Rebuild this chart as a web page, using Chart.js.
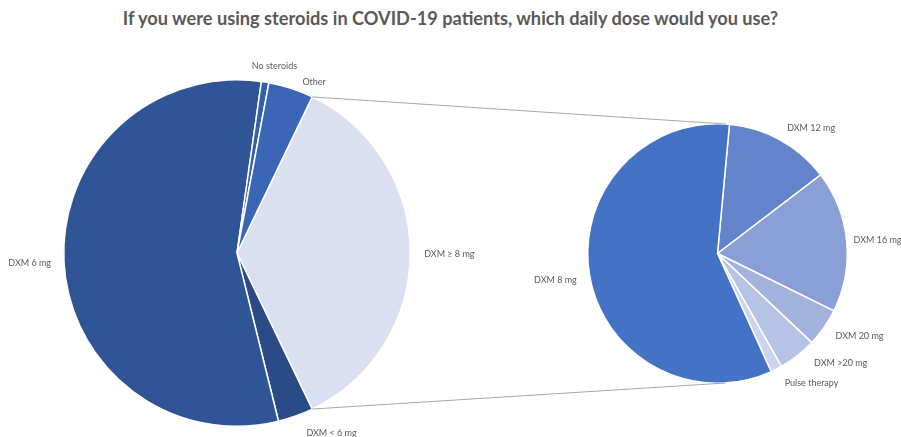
<!DOCTYPE html>
<html>
<head>
<meta charset="utf-8">
<script src="https://cdn.jsdelivr.net/npm/chart.js@4.4.1/dist/chart.umd.min.js"></script>
<style>
    body { margin: 0; background: #fff; }
    #wrap { position: relative; width: 901px; height: 437px; overflow: hidden; }
    #title {
        position: absolute; top: 7px; left: 0; width: 901px;
        text-align: center; font: bold 18.2px Lato, sans-serif; color: #595959;
    }
    canvas { position: absolute; left: 0; top: 0; }
</style>
</head>
<body>
<div id="wrap">
    <div id="title">If you were using steroids in COVID-19 patients, which daily dose would you use?</div>
    <canvas id="mainPie" width="901" height="437"></canvas>
    <canvas id="subPie" width="901" height="437"></canvas>
</div>
<script>
// Data (% of respondents)
const subLabels = ['DXM 12 mg', 'DXM 16 mg', 'DXM 20 mg', 'DXM >20 mg', 'Pulse therapy', 'DXM 8 mg'];
const subValues = [4.7, 6.3, 1.7, 1.7, 0.5, 20.8];
const subColors = ['#6384CA', '#8A9FD5', '#A3B3DE', '#B6C3E5', '#CCD5EE', '#4472C4'];

const mainLabels = ['DXM ≥ 8 mg', 'DXM < 6 mg', 'DXM 6 mg', 'No steroids', 'Other'];
const mainRest = [3.3, 56.1, 0.7, 4.2];
const mainColors = ['#DAE0F0', '#2B4B87', '#2F5597', '#3560A8', '#3B66B5'];

// the "DXM ≥ 8 mg" slice is the sum of the second pie
const groupTotal = subValues.reduce((a, b) => a + b, 0);
const mainValues = [groupTotal, ...mainRest];
const mainTotal = mainValues.reduce((a, b) => a + b, 0);

let mainChart, subChart;

// Labels just outside each slice
const outsideLabels = {
    id: 'outsideLabels',
    afterDatasetsDraw(chart, args, opts) {
        const ctx = chart.ctx;
        const meta = chart.getDatasetMeta(0);
        const nudge = opts.nudge || [];
        ctx.save();
        ctx.font = '9px Lato, sans-serif';
        ctx.fillStyle = '#595959';
        ctx.textBaseline = 'middle';
        meta.data.forEach((arc, i) => {
            const mid = (arc.startAngle + arc.endAngle) / 2;
            const r = arc.outerRadius + opts.offset;
            const n = nudge[i] || [0, 0];
            const x = arc.x + Math.cos(mid) * r + n[0];
            const y = arc.y + Math.sin(mid) * r + n[1];
            const c = Math.cos(mid);
            ctx.textAlign = Math.abs(c) < 0.25 ? 'center' : (c > 0 ? 'left' : 'right');
            ctx.fillText(chart.data.labels[i], x, y);
        });
        ctx.restore();
    }
};

// Lines from the grouped slice to the second pie (tangent points)
const connectors = {
    id: 'connectors',
    afterDatasetsDraw(chart) {
        if (!mainChart) return;
        const g = mainChart.getDatasetMeta(0).data[0];
        const s = chart.getDatasetMeta(0).data[0];
        const ends = [g.startAngle, g.endAngle].map(a => ({
            x: g.x + Math.cos(a) * g.outerRadius,
            y: g.y + Math.sin(a) * g.outerRadius
        }));
        const ctx = chart.ctx;
        ctx.save();
        ctx.strokeStyle = '#A6A6A6';
        ctx.lineWidth = 1;
        ends.forEach((p, k) => {
            const dx = p.x - s.x, dy = p.y - s.y;
            const d = Math.hypot(dx, dy);
            const base = Math.atan2(dy, dx);
            const off = Math.acos(s.outerRadius / d);
            const a = k === 0 ? base + off : base - off;
            ctx.beginPath();
            ctx.moveTo(p.x, p.y);
            ctx.lineTo(s.x + Math.cos(a) * s.outerRadius, s.y + Math.sin(a) * s.outerRadius);
            ctx.stroke();
        });
        ctx.restore();
    }
};

const commonOptions = {
    responsive: false,
    animation: false,
    events: [],
    plugins: {
        legend: { display: false },
        tooltip: { enabled: false }
    }
};

mainChart = new Chart(document.getElementById('mainPie'), {
    type: 'pie',
    data: {
        labels: mainLabels,
        datasets: [{
            data: mainValues,
            backgroundColor: mainColors,
            borderColor: '#ffffff',
            borderWidth: 1.5
        }]
    },
    options: {
        ...commonOptions,
        // centre the grouped slice on the right-hand side
        rotation: 90 - (groupTotal / mainTotal) * 180,
        layout: { padding: { left: 63, right: 490, top: 79, bottom: 10 } },
        plugins: {
            ...commonOptions.plugins,
            outsideLabels: { offset: 14, nudge: [[0, 1], [6, 4], [1, 1], [7, -2], [7, 7]] }
        }
    },
    plugins: [outsideLabels]
});

subChart = new Chart(document.getElementById('subPie'), {
    type: 'pie',
    data: {
        labels: subLabels,
        datasets: [{
            data: subValues,
            backgroundColor: subColors,
            borderColor: '#ffffff',
            borderWidth: 1.5
        }]
    },
    options: {
        ...commonOptions,
        rotation: 5.3,
        layout: { padding: { left: 587, right: 53, top: 123, bottom: 53 } },
        plugins: {
            ...commonOptions.plugins,
            outsideLabels: { offset: 14, nudge: [[0, 0], [-7, 0], [0, 1], [8, -4], [2, 1], [1, 3]] }
        }
    },
    plugins: [outsideLabels, connectors]
});
</script>
</body>
</html>
